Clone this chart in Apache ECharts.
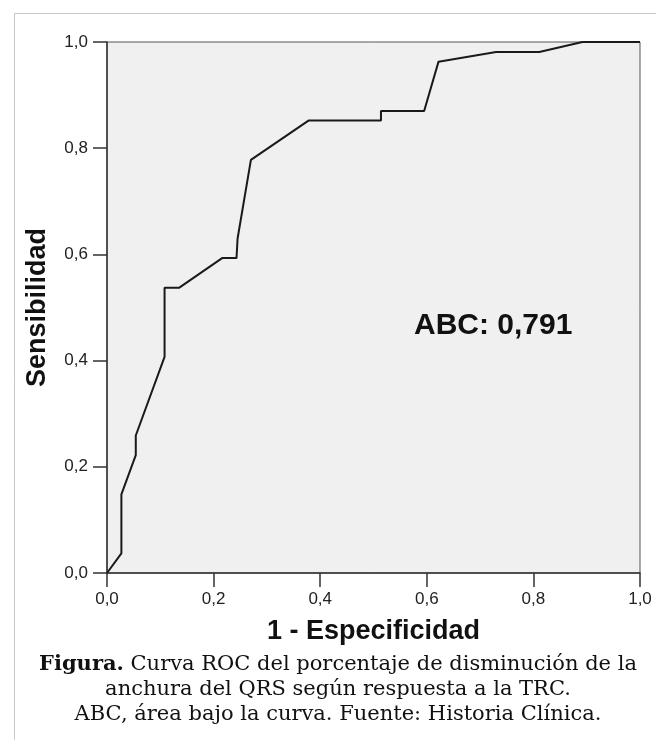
<!DOCTYPE html>
<html>
<head>
<meta charset="utf-8">
<script src="https://cdn.jsdelivr.net/npm/echarts@6/dist/echarts.min.js"></script>
<style>
html,body{margin:0;padding:0;background:#fff;}
#chart{width:656px;height:740px;}
</style>
</head>
<body>
<div id="chart"></div>
<script>
// 1 - Especificidad (x) and Sensibilidad (y) for each ROC step
const fprValues = [0, 0.027, 0.027, 0.054, 0.054, 0.108, 0.108, 0.135, 0.216, 0.243, 0.245, 0.270, 0.378, 0.514, 0.514, 0.595, 0.622, 0.730, 0.811, 0.892, 1.0];
const tprValues = [0, 0.037, 0.148, 0.222, 0.259, 0.407, 0.537, 0.537, 0.593, 0.593, 0.630, 0.778, 0.852, 0.852, 0.870, 0.870, 0.963, 0.981, 0.981, 1.0, 1.0];
const tickValues = [0, 0.2, 0.4, 0.6, 0.8, 1.0];
const xAxisTitle = '1 - Especificidad';
const yAxisTitle = 'Sensibilidad';
const aucText = 'ABC: 0,791';
const captionBold = 'Figura.';
const captionLines = [
  ' Curva ROC del porcentaje de disminución de la',
  'anchura del QRS según respuesta a la TRC.',
  'ABC, área bajo la curva. Fuente: Historia Clínica.'
];

const fmt = v => v.toFixed(1).replace('.', ',');
const rocData = fprValues.map((x, i) => [x, tprValues[i]]);

const chart = echarts.init(document.getElementById('chart'), null, {renderer: 'canvas'});
const axisCommon = {
  type: 'value', min: 0, max: 1, interval: 0.2,
  splitLine: {show: false},
  axisLine: {show: true, lineStyle: {color: '#333', width: 1.5}},
  axisTick: {show: true, length: 14, lineStyle: {color: '#333', width: 1.5}},
  axisLabel: {formatter: fmt, color: '#222', fontFamily: 'Liberation Sans', fontSize: 17},
  nameLocation: 'middle',
  nameTextStyle: {fontFamily: 'Liberation Sans', fontWeight: 'bold', fontSize: 27, color: '#111'}
};
const captionFont = '21px "DejaVu Serif"';
chart.setOption({
  animation: false,
  backgroundColor: '#fff',
  grid: {left: 107, right: 16, top: 42, bottom: 167, show: true, backgroundColor: '#f0f0f0', borderColor: '#555', borderWidth: 1},
  xAxis: Object.assign({}, axisCommon, {
    name: xAxisTitle, nameGap: 45,
    axisLabel: Object.assign({}, axisCommon.axisLabel, {margin: 18})
  }),
  yAxis: Object.assign({}, axisCommon, {
    name: yAxisTitle, nameGap: 56, nameRotate: 90,
    axisLabel: Object.assign({}, axisCommon.axisLabel, {margin: 19})
  }),
  series: [{
    type: 'line', data: rocData, showSymbol: false, smooth: false,
    lineStyle: {color: '#1a1a1a', width: 2}, z: 5
  }],
  graphic: [
    {type: 'rect', left: 12, top: 11, shape: {x: 0, y: 0, width: 700, height: 800},
     style: {fill: 'none', stroke: '#c8c8c8', lineWidth: 1}, silent: true, z: -10},
    {type: 'text', left: 414, top: 311, z: 10,
     style: {text: aucText, font: 'bold 30px "Liberation Sans"', fill: '#111'}},
    {type: 'text', x: 338, y: 654, z: 10,
     style: {
       rich: {
         b: {font: 'bold 21px "DejaVu Serif"', fill: '#111'},
         n: {font: captionFont, fill: '#111'}
       },
       text: '{b|' + captionBold + '}{n|' + captionLines[0] + '}',
       align: 'center', verticalAlign: 'top'
     }},
    {type: 'text', x: 338, y: 679, z: 10,
     style: {text: captionLines[1], font: captionFont, fill: '#111', align: 'center', verticalAlign: 'top'}},
    {type: 'text', x: 338, y: 704, z: 10,
     style: {text: captionLines[2], font: captionFont, fill: '#111', align: 'center', verticalAlign: 'top'}}
  ]
});
</script>
</body>
</html>
